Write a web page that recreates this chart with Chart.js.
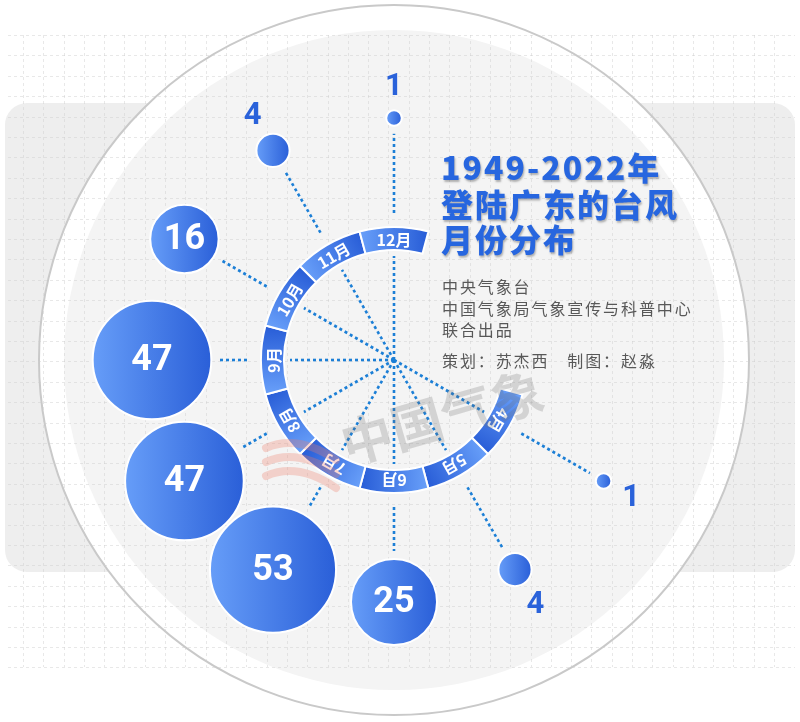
<!DOCTYPE html>
<html lang="zh">
<head>
<meta charset="utf-8">
<title>1949-2022年登陆广东的台风月份分布</title>
<script src="https://cdn.jsdelivr.net/npm/chart.js@4.4.0/dist/chart.umd.min.js"></script>
<style>
    html, body { margin: 0; padding: 0; background: #fff; }
    #wrap { width: 800px; height: 722px; }
</style>
</head>
<body>
<div id="wrap"><canvas id="typhoonChart" width="800" height="722"></canvas></div>
<script>
// ==============================
// Data
// ==============================

const months = ["4月", "5月", "6月", "7月", "8月", "9月", "10月", "11月", "12月"];
const monthNumbers = [4, 5, 6, 7, 8, 9, 10, 11, 12];
const typhoonCounts = [1, 4, 25, 53, 47, 47, 16, 4, 1];

const titleLines = ["1949-2022年", "登陆广东的台风", "月份分布"];
const creditLines = ["中央气象台", "中国气象局气象宣传与科普中心", "联合出品", "策划：苏杰西　制图：赵淼"];

// ==============================
// Layout
// ==============================

const CENTER_X = 394;        // page pixel of the hub
const CENTER_Y = 360;
const BUBBLE_DIST = 242;     // distance of every bubble from the hub
const RING_INNER = 110;
const RING_OUTER = 133;
const BUBBLE_SCALE = 8.8;    // radius = scale * sqrt(count)

const CJK = '"Noto Sans CJK SC", sans-serif';

// 12月 at the top, going counter-clockwise down to 4月
function monthAngle(m) {
    return 90 + (12 - m) * 30;
}

function bubbleRadius(v) {
    return BUBBLE_SCALE * Math.sqrt(v) - 1;
}

const bubbleData = monthNumbers.map((m, i) => {
    const a = monthAngle(m) * Math.PI / 180;
    return {
        x: BUBBLE_DIST * Math.cos(a),
        y: BUBBLE_DIST * Math.sin(a),
        r: bubbleRadius(typhoonCounts[i])
    };
});

function blueGradient(ctx, x0, y0, x1, y1) {
    const g = ctx.createLinearGradient(x0, y0, x1, y1);
    g.addColorStop(0, "#669df8");
    g.addColorStop(1, "#2a5fd8");
    return g;
}

function centre(chart) {
    return {
        cx: chart.scales.x.getPixelForValue(0),
        cy: chart.scales.y.getPixelForValue(0)
    };
}

// ==============================
// Keep one scale unit = one pixel, hub at CENTER_X / CENTER_Y
// (the bubble controller pads the chart area by the largest radius)
// ==============================

const pixelScalePlugin = {
    id: "pixelScale",
    afterLayout(chart) {
        const a = chart.chartArea;
        const xs = chart.scales.x;
        const ys = chart.scales.y;
        xs.min = a.left - CENTER_X;
        xs.max = a.right - CENTER_X;
        xs.configure();
        ys.min = CENTER_Y - a.bottom;
        ys.max = CENTER_Y - a.top;
        ys.configure();
    }
};

// ==============================
// Background: card, grid, big circle
// ==============================

const backdropPlugin = {
    id: "backdrop",
    beforeDraw(chart) {
        const ctx = chart.ctx;
        const { cx, cy } = centre(chart);

        ctx.save();
        ctx.fillStyle = "#ffffff";
        ctx.fillRect(0, 0, chart.width, chart.height);

        ctx.fillStyle = "#eeeeee";
        ctx.beginPath();
        ctx.roundRect(5, 103, 790, 469, 22);
        ctx.fill();

        ctx.beginPath();
        ctx.arc(cx, cy, 355, 0, Math.PI * 2);
        ctx.fillStyle = "#ffffff";
        ctx.fill();
        ctx.lineWidth = 2;
        ctx.strokeStyle = "#c9c9c9";
        ctx.stroke();

        ctx.beginPath();
        ctx.arc(cx, cy, 330, 0, Math.PI * 2);
        ctx.fillStyle = "#f4f4f4";
        ctx.fill();

        // faint dashed grid
        ctx.strokeStyle = "rgba(205,205,205,0.45)";
        ctx.lineWidth = 1;
        ctx.setLineDash([3, 3]);
        ctx.beginPath();
        for (let x = 23; x <= 792; x += 20.3) {
            ctx.moveTo(Math.round(x) + 0.5, 35);
            ctx.lineTo(Math.round(x) + 0.5, 667);
        }
        for (let y = 35; y <= 668; y += 20.4) {
            ctx.moveTo(8, Math.round(y) + 0.5);
            ctx.lineTo(795, Math.round(y) + 0.5);
        }
        ctx.stroke();
        ctx.restore();
    }
};

// ==============================
// Dotted rays and month ring
// ==============================

function dottedRay(ctx, cx, cy, a, r0, r1) {
    if (r1 <= r0) return;
    ctx.beginPath();
    ctx.moveTo(cx + r0 * Math.cos(a), cy + r0 * Math.sin(a));
    ctx.lineTo(cx + r1 * Math.cos(a), cy + r1 * Math.sin(a));
    ctx.stroke();
}

const ringPlugin = {
    id: "ring",
    beforeDatasetsDraw(chart) {
        const ctx = chart.ctx;
        const { cx, cy } = centre(chart);
        const meta = chart.getDatasetMeta(0);

        ctx.save();
        ctx.strokeStyle = "#1c7fd6";
        ctx.lineWidth = 2.6;
        ctx.setLineDash([3, 3]);
        monthNumbers.forEach((m, i) => {
            const a = -monthAngle(m) * Math.PI / 180;
            const el = meta.data[i];
            const rEnd = Math.hypot(el.x - cx, el.y - cy) - el.options.radius - 8;
            dottedRay(ctx, cx, cy, a, 0, RING_INNER - 6);
            dottedRay(ctx, cx, cy, a, RING_OUTER + 14, rEnd);
        });
        ctx.setLineDash([]);

        const rm = (RING_INNER + RING_OUTER) / 2;
        monthNumbers.forEach((m, i) => {
            const mid = -monthAngle(m) * Math.PI / 180;
            const a0 = mid - Math.PI / 12;
            const a1 = mid + Math.PI / 12;

            ctx.beginPath();
            ctx.arc(cx, cy, RING_OUTER, a0, a1);
            ctx.arc(cx, cy, RING_INNER, a1, a0, true);
            ctx.closePath();
            ctx.fillStyle = blueGradient(ctx,
                cx + rm * Math.cos(a0), cy + rm * Math.sin(a0),
                cx + rm * Math.cos(a1), cy + rm * Math.sin(a1));
            ctx.fill();
            ctx.strokeStyle = "#ffffff";
            ctx.lineWidth = 2;
            ctx.stroke();

            ctx.save();
            ctx.translate(cx + rm * Math.cos(mid), cy + rm * Math.sin(mid));
            ctx.rotate(mid + Math.PI / 2);
            ctx.fillStyle = "#ffffff";
            ctx.font = "bold 16px " + CJK;
            ctx.textAlign = "center";
            ctx.textBaseline = "middle";
            ctx.fillText(months[i], 0, 1);
            ctx.restore();
        });
        ctx.restore();
    }
};

// ==============================
// Numbers, watermark, title
// ==============================

const labelPlugin = {
    id: "labels",
    afterDatasetsDraw(chart) {
        const ctx = chart.ctx;
        const { cx, cy } = centre(chart);
        const meta = chart.getDatasetMeta(0);

        ctx.save();

        // watermark
        ctx.save();
        ctx.translate(cx + 48, cy + 57);
        ctx.rotate(-16 * Math.PI / 180);
        ctx.font = "bold 52px " + CJK;
        ctx.fillStyle = "rgba(110,110,110,0.24)";
        ctx.textAlign = "center";
        ctx.textBaseline = "middle";
        ctx.fillText("中国气象", 0, 0);
        ctx.restore();

        ctx.strokeStyle = "rgba(238,125,105,0.30)";
        ctx.lineWidth = 8;
        ctx.lineCap = "round";
        for (let k = 0; k < 3; k++) {
            ctx.beginPath();
            ctx.moveTo(cx - 128, cy + 88 + k * 14);
            ctx.quadraticCurveTo(cx - 96, cy + 74 + k * 14, cx - 58, cy + 100 + k * 14);
            ctx.stroke();
        }

        // bubble numbers
        ctx.textAlign = "center";
        ctx.textBaseline = "middle";
        meta.data.forEach((el, i) => {
            const v = typhoonCounts[i];
            const r = el.options.radius + 1;
            if (r > 25) {
                ctx.fillStyle = "#ffffff";
                ctx.font = "bold 36px Roboto";
                ctx.fillText(String(v), el.x, el.y + 1);
            } else {
                const dx = el.x - cx, dy = el.y - cy;
                const d = Math.hypot(dx, dy);
                const off = r + 23;
                ctx.fillStyle = "#2a62da";
                ctx.font = "bold 31px Roboto";
                ctx.fillText(String(v), el.x + dx / d * off, el.y + dy / d * off + 1);
            }
        });

        // title
        ctx.textAlign = "left";
        ctx.textBaseline = "alphabetic";
        ctx.font = "900 32px " + CJK;
        ctx.letterSpacing = "2px";
        ctx.fillStyle = "#2766df";
        ctx.shadowColor = "rgba(0,0,0,0.28)";
        ctx.shadowOffsetX = 1;
        ctx.shadowOffsetY = 2;
        ctx.shadowBlur = 2;
        const titleY = [180, 217, 252];
        titleLines.forEach((t, i) => ctx.fillText(t, 441, titleY[i]));
        ctx.shadowColor = "transparent";

        ctx.font = "16px " + CJK;
        ctx.fillStyle = "#585858";
        ctx.letterSpacing = "1.9px";
        const creditY = [293, 315, 336, 367];
        creditLines.forEach((t, i) => ctx.fillText(t, 442, creditY[i]));
        ctx.restore();
    }
};

// ==============================
// Bubble chart
// ==============================

const typhoonChart = new Chart(document.getElementById("typhoonChart"), {
    type: "bubble",
    data: {
        datasets: [{
            label: "登陆广东的台风",
            data: bubbleData,
            borderColor: "#ffffff",
            borderWidth: 2,
            backgroundColor: (c) => {
                if (c.type !== "data" || !c.raw) return "#4a85ee";
                const chart = c.chart;
                const px = chart.scales.x ? chart.scales.x.getPixelForValue(c.raw.x) : NaN;
                if (!isFinite(px)) return "#4a85ee";
                return blueGradient(chart.ctx, px - c.raw.r, 0, px + c.raw.r, 0);
            }
        }]
    },
    options: {
        responsive: false,
        animation: false,
        events: [],
        layout: { padding: 0 },
        clip: false,
        plugins: {
            legend: { display: false },
            tooltip: { enabled: false }
        },
        scales: {
            x: { type: "linear", min: -394, max: 406, display: false },
            y: { type: "linear", min: -362, max: 360, display: false }
        }
    },
    plugins: [pixelScalePlugin, backdropPlugin, ringPlugin, labelPlugin]
});
</script>
</body>
</html>
